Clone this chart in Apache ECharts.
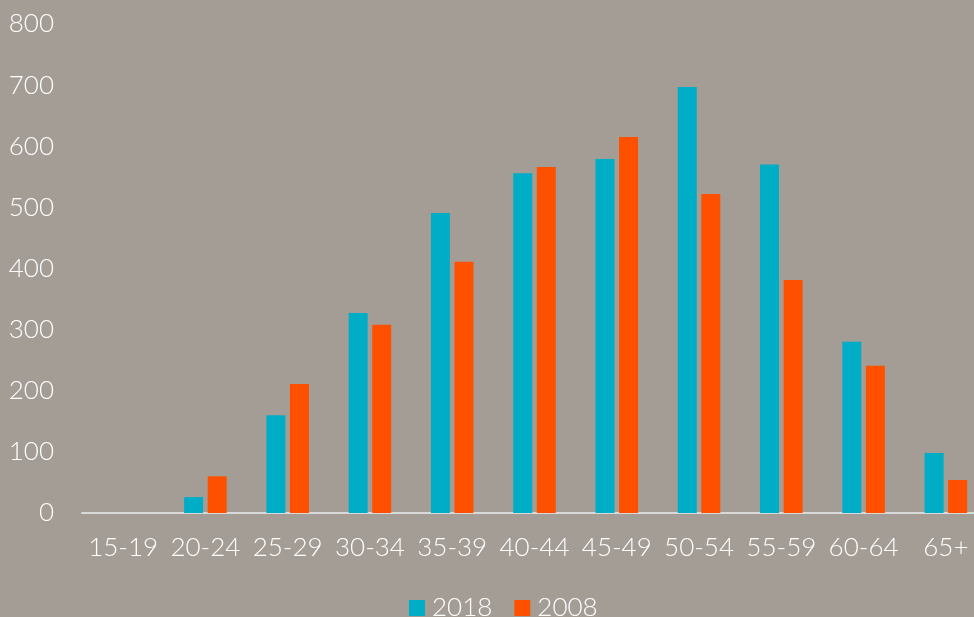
<!DOCTYPE html>
<html><head><meta charset="utf-8">
<script src="https://cdn.jsdelivr.net/npm/echarts@6/dist/echarts.min.js"></script>
<style>html,body{margin:0;padding:0;background:#A49D95;}#c{width:974px;height:617px;}</style>
</head><body><div id="c"></div>
<script>
const categories = ['15-19','20-24','25-29','30-34','35-39','40-44','45-49','50-54','55-59','60-64','65+'];
const values2018 = [0, 26, 160, 327, 491, 556, 579, 697, 570, 280, 98];
const values2008 = [0, 60, 211, 308, 411, 566, 615, 522, 381, 241, 54];
const seriesNames = ['2018', '2008'];

const chart = echarts.init(document.getElementById('c'), null, {renderer: 'canvas'});
const font = 'Lato, "Open Sans", sans-serif';
chart.setOption({
  backgroundColor: '#A49D95',
  animation: false,
  grid: {left: 82, top: 24, width: 905, height: 489, containLabel: false, outerBoundsMode: 'none'},
  legend: {
    data: seriesNames, left: 404, top: 590, itemWidth: 16, itemHeight: 16, itemGap: 22,
    icon: 'rect',
    textStyle: {color: '#fff', fontSize: 26, fontWeight: 300, fontFamily: font, padding: [0,0,0,2]}
  },
  xAxis: {
    type: 'category', data: categories,
    axisLine: {lineStyle: {color: '#D9D9D9', width: 2}},
    axisTick: {show: false},
    axisLabel: {color: '#fff', fontSize: 26, fontWeight: 300, fontFamily: font, margin: 22, interval: 0}
  },
  yAxis: {
    type: 'value', min: 0, max: 800, interval: 100,
    splitLine: {show: false}, axisLine: {show: false}, axisTick: {show: false},
    axisLabel: {color: '#fff', fontSize: 26, fontWeight: 300, fontFamily: font, margin: 28}
  },
  series: [
    {name: seriesNames[0], type: 'bar', data: values2018, barWidth: 19, barGap: '24%', itemStyle: {color: '#00ADC6'}},
    {name: seriesNames[1], type: 'bar', data: values2008, barWidth: 19, barGap: '24%', itemStyle: {color: '#FF5000'}}
  ]
});
</script></body></html>
